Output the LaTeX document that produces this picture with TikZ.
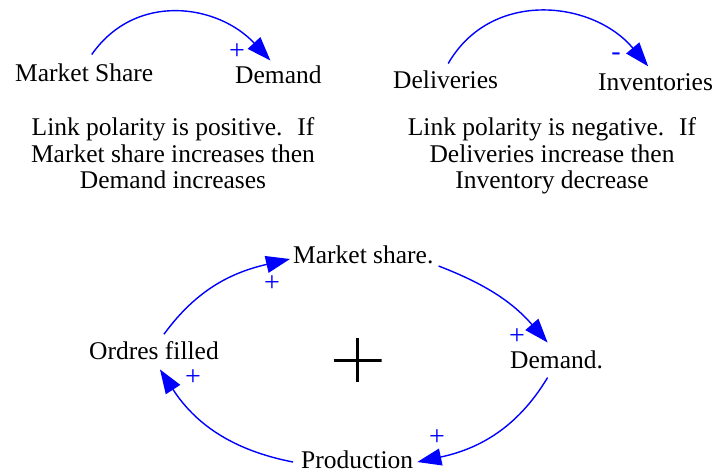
\documentclass[tikz,border=0pt]{standalone}
\usepackage{fontspec}
\setmainfont{Liberation Serif}
\newfontfamily\diagfont{Liberation Serif}
\usetikzlibrary{arrows.meta,calc}
\definecolor{linkblue}{RGB}{0,0,255}
\begin{document}
\begin{tikzpicture}[x=1pt,y=1pt,
  lbl/.style={inner sep=0pt,anchor=base west,font=\diagfont\fontsize{25.5}{26.5}\selectfont},
  para/.style={inner sep=0pt,anchor=north,align=center,font=\diagfont\fontsize{25.5}{26.5}\selectfont},
  pol/.style={inner sep=0pt,text=linkblue,font=\diagfont\fontsize{28}{28}\selectfont},
  link/.style={draw=linkblue,line width=1.4pt,-{Triangle[length=24pt,width=17pt]}}]
\useasboundingbox (0,0) rectangle (714,-472);
% top left example
\node[lbl] (ms) at (15,-81) {Market Share};
\node[lbl] (dm) at (235,-83) {Demand};
\draw[link] ($(ms.north)+(7.5,8.6)$) to[out=55,in=133,looseness=1.1] ($(dm.north)+(-8,4.6)$);
\node[pol] (p1) at (237,-52) {+};
\node[para] (t1) at (173,-117.5) {Link polarity is positive.~ If\\Market share increases then\\Demand increases};
% top right example
\node[lbl] (dl) at (393,-88) {Deliveries};
\node[lbl] (inv) at (598,-90) {Inventories};
\draw[link] ($(dl.north)+(2.6,6.6)$) to[out=60,in=130,looseness=1.1] ($(inv.north)+(-7.4,6.6)$);
\node[pol] (m1) at (616,-57) {-};
\node[para] (t2) at (552,-117.5) {Link polarity is negative.~ If\\Deliveries increase then\\Inventory decrease};
% loop
\node[lbl] (msb) at (293,-263) {Market share.};
\node[lbl] (dmb) at (510,-368) {Demand.};
\node[lbl] (pr) at (301,-468) {Production};
\node[lbl] (of) at (89,-359) {Ordres filled};
\node[minimum width=48pt,minimum height=44pt,inner sep=0pt,
  path picture={\draw[line width=3pt] (path picture bounding box.north) -- (path picture bounding box.south)
  (path picture bounding box.west) -- (path picture bounding box.east);}] (loop) at (357.5,-360) {};
\draw[link] ($(of.north)+(10,6.6)$) to[out=54,in=193] ($(msb.base west)+(-3,4)$);
\draw[link] ($(msb.base east)+(5,-3)$) to[out=-21,in=131] ($(dmb.north)+(-9,7.6)$);
\draw[link] ($(dmb.south)+(-9,-9)$) to[out=239,in=12] ($(pr.base east)+(4,6)$);
\draw[link] ($(pr.base west)+(-8,6)$) to[out=169,in=-57] ($(of.south)+(6,-10)$);
\node[pol] (p2) at (272,-284) {+};
\node[pol] (p3) at (517,-337) {+};
\node[pol] (p4) at (437,-438) {+};
\node[pol] (p5) at (193,-378) {+};
\end{tikzpicture}
\end{document}
